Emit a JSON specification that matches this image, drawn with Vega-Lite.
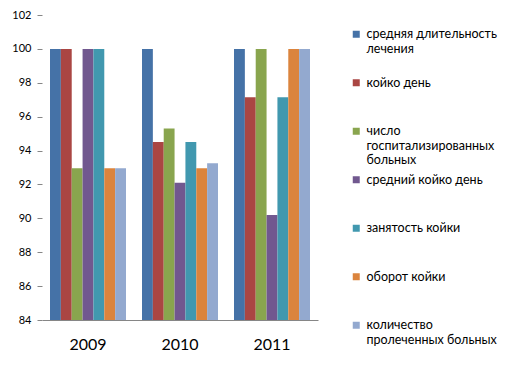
{
  "$schema": "https://vega.github.io/schema/vega-lite/v6.json",
  "width": 276,
  "height": 305,
  "autosize": {"type": "none"},
  "padding": {"left": 42, "top": 15, "right": 198, "bottom": 45},
  "background": "white",
  "config": {"view": {"stroke": null}},
  "data": {
    "values": [
      {"year": "2009", "series": "средняя длительность лечения", "value": 100},
      {"year": "2009", "series": "койко день", "value": 100},
      {"year": "2009", "series": "число госпитализированных больных", "value": 92.95},
      {"year": "2009", "series": "средний койко день", "value": 100},
      {"year": "2009", "series": "занятость койки", "value": 100},
      {"year": "2009", "series": "оборот койки", "value": 92.95},
      {"year": "2009", "series": "количество пролеченных больных", "value": 92.95},
      {"year": "2010", "series": "средняя длительность лечения", "value": 100},
      {"year": "2010", "series": "койко день", "value": 94.5},
      {"year": "2010", "series": "число госпитализированных больных", "value": 95.3},
      {"year": "2010", "series": "средний койко день", "value": 92.1},
      {"year": "2010", "series": "занятость койки", "value": 94.5},
      {"year": "2010", "series": "оборот койки", "value": 92.95},
      {"year": "2010", "series": "количество пролеченных больных", "value": 93.25},
      {"year": "2011", "series": "средняя длительность лечения", "value": 100},
      {"year": "2011", "series": "койко день", "value": 97.15},
      {"year": "2011", "series": "число госпитализированных больных", "value": 100},
      {"year": "2011", "series": "средний койко день", "value": 90.2},
      {"year": "2011", "series": "занятость койки", "value": 97.15},
      {"year": "2011", "series": "оборот койки", "value": 100},
      {"year": "2011", "series": "количество пролеченных больных", "value": 100}
    ]
  },
  "mark": {"type": "bar"},
  "encoding": {
    "x": {
      "field": "year",
      "type": "nominal",
      "title": null,
      "scale": {"paddingInner": 0.174, "paddingOuter": 0.087},
      "axis": {
        "labelAngle": 0,
        "labelFont": "Lato",
        "labelFontSize": 16,
        "labelColor": "#000000",
        "labelPadding": 16,
        "ticks": false,
        "domainColor": "#868686",
        "domainWidth": 1
      }
    },
    "xOffset": {
      "field": "series",
      "type": "nominal",
      "sort": ["средняя длительность лечения", "койко день", "число госпитализированных больных", "средний койко день", "занятость койки", "оборот койки", "количество пролеченных больных"],
      "scale": {"paddingInner": 0, "paddingOuter": 0}
    },
    "y": {
      "field": "value",
      "type": "quantitative",
      "title": null,
      "scale": {"domain": [84, 102], "zero": false, "nice": false},
      "axis": {
        "values": [84, 86, 88, 90, 92, 94, 96, 98, 100, 102],
        "grid": false,
        "domain": false,
        "tickColor": "#868686",
        "tickSize": 5,
        "labelPadding": 6,
        "labelFont": "Lato",
        "labelFontSize": 11,
        "labelColor": "#000000"
      }
    },
    "y2": {"datum": 84},
    "color": {
      "field": "series",
      "type": "nominal",
      "sort": ["средняя длительность лечения", "койко день", "число госпитализированных больных", "средний койко день", "занятость койки", "оборот койки", "количество пролеченных больных"],
      "scale": {"range": ["#4572A7", "#AA4643", "#89A54E", "#71588F", "#4198AF", "#DB843D", "#93A9CF"]},
      "legend": {
        "title": null,
        "orient": "right",
        "offset": 19,
        "padding": 13,
        "symbolType": "square",
        "symbolSize": 49,
        "symbolStrokeWidth": 0,
        "labelFont": "Lato",
        "labelFontSize": 12.5,
        "labelColor": "#000000",
        "labelLimit": 0,
        "labelOffset": 4,
        "labelBaseline": "middle",
        "labelLineHeight": 16.5,
        "rowPadding": 6.5,
        "labelExpr": "datum.label == 'средняя длительность лечения' ? ['средняя длительность', 'лечения', ' '] : datum.label == 'число госпитализированных больных' ? ['число', 'госпитализированных', 'больных'] : datum.label == 'количество пролеченных больных' ? ['количество', 'пролеченных больных', ' '] : [datum.label, ' ', ' ']"
      }
    }
  }
}
